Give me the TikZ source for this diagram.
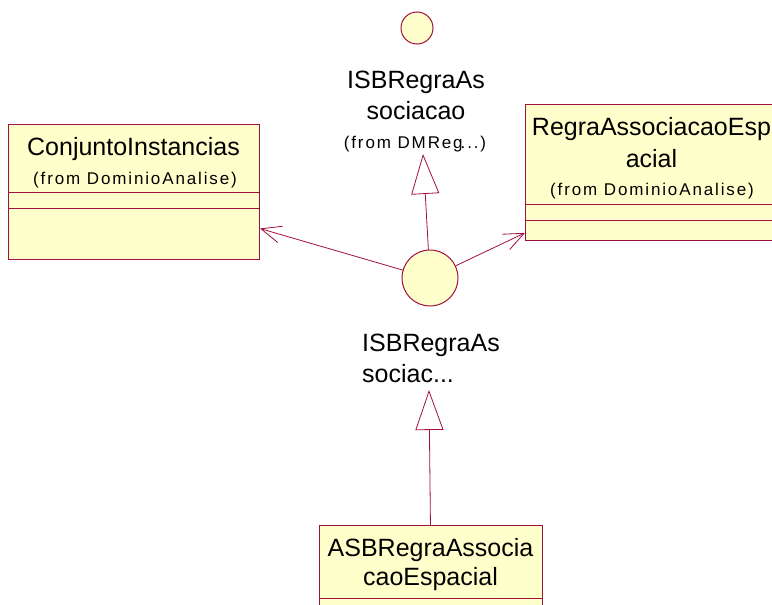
\documentclass[tikz,border=0pt]{standalone}
\usepackage{fontspec}
\setmainfont{Liberation Sans}
\newfontfamily\fromfont[LetterSpace=11]{Liberation Sans}
\usetikzlibrary{arrows.meta}
\definecolor{umlline}{RGB}{160,16,60}
\definecolor{umlfill}{RGB}{255,255,204}
\begin{document}
\begin{tikzpicture}[x=1pt,y=-1pt,
  classbox/.style={draw=umlline, fill=umlfill, line width=1pt, rectangle,
    inner sep=0pt, anchor=north west},
  iface/.style={draw=umlline, fill=umlfill, line width=1pt, circle, inner sep=0pt},
  title/.style={font=\fontsize{25}{30}\selectfont, anchor=base, inner sep=0pt},
  titleleft/.style={title, anchor=base west},
  from/.style={font=\fromfont\fontsize{17}{20}\selectfont, anchor=base, inner sep=0pt},
  compart/.style={draw=umlline, line width=0.8pt},
  dep/.style={draw=umlline, line width=0.8pt, -{Straight Barb[length=20pt, width=17pt, line width=0.8pt]}},
  real/.style={draw=umlline, line width=0.8pt, -{Triangle[open, length=40pt, width=28pt, line width=0.8pt]}},
]
\useasboundingbox (0,0) rectangle (772,605);
\clip (0,0) rectangle (772,605);

% interfaces
\node[iface, minimum size=32pt] (c1) at (417,28) {};
\node[title] (c1a) at (416,88) {ISBRegraAs};
\node[title] (c1b) at (416,119) {sociacao};
\node[from] (c1c) at (415,148) {(from DMReg\kern-2pt...)};

\node[iface, minimum size=56pt] (c2) at (430,278) {};
\node[titleleft] (c2a) at (362,351) {ISBRegraAs};
\node[titleleft] (c2b) at (362,382) {sociac...};

% class ConjuntoInstancias
\node[classbox, minimum width=251pt, minimum height=135pt] (box1) at (8,124) {};
\node[title] (box1a) at (133.5,155) {ConjuntoInstancias};
\node[from] (box1b) at (135,184) {(from DominioAnalise)};
\draw[compart] ([yshift=-68pt]box1.north west) -- ([yshift=-68pt]box1.north east);
\draw[compart] ([yshift=-84pt]box1.north west) -- ([yshift=-84pt]box1.north east);

% class RegraAssociacaoEspacial
\node[classbox, minimum width=255pt, minimum height=136pt] (box2) at (525,104) {};
\node[title] (box2a) at (651.5,135) {RegraAssociacaoEsp};
\node[title] (box2b) at (651.5,167) {acial};
\node[from] (box2c) at (652,195) {(from DominioAnalise)};
\draw[compart] ([yshift=-100pt]box2.north west) -- ([yshift=-100pt]box2.north east);
\draw[compart] ([yshift=-116pt]box2.north west) -- ([yshift=-116pt]box2.north east);

% class ASBRegraAssociacaoEspacial
\node[classbox, minimum width=223pt, minimum height=100pt] (box3) at (319,525) {};
\node[title] (box3a) at (430.5,556) {ASBRegraAssocia};
\node[title] (box3b) at (430.5,585) {caoEspacial};
\draw[compart] ([yshift=-73pt]box3.north west) -- ([yshift=-73pt]box3.north east);

% connectors
\coordinate (tip1) at (423,154);
\coordinate (tip2) at (429,390);
\draw[dep] (c2) -- (box1);
\draw[dep] (c2) -- (box2);
\draw[real] (c2) -- (tip1);
\draw[real] (box3) -- (tip2);
\end{tikzpicture}
\end{document}
